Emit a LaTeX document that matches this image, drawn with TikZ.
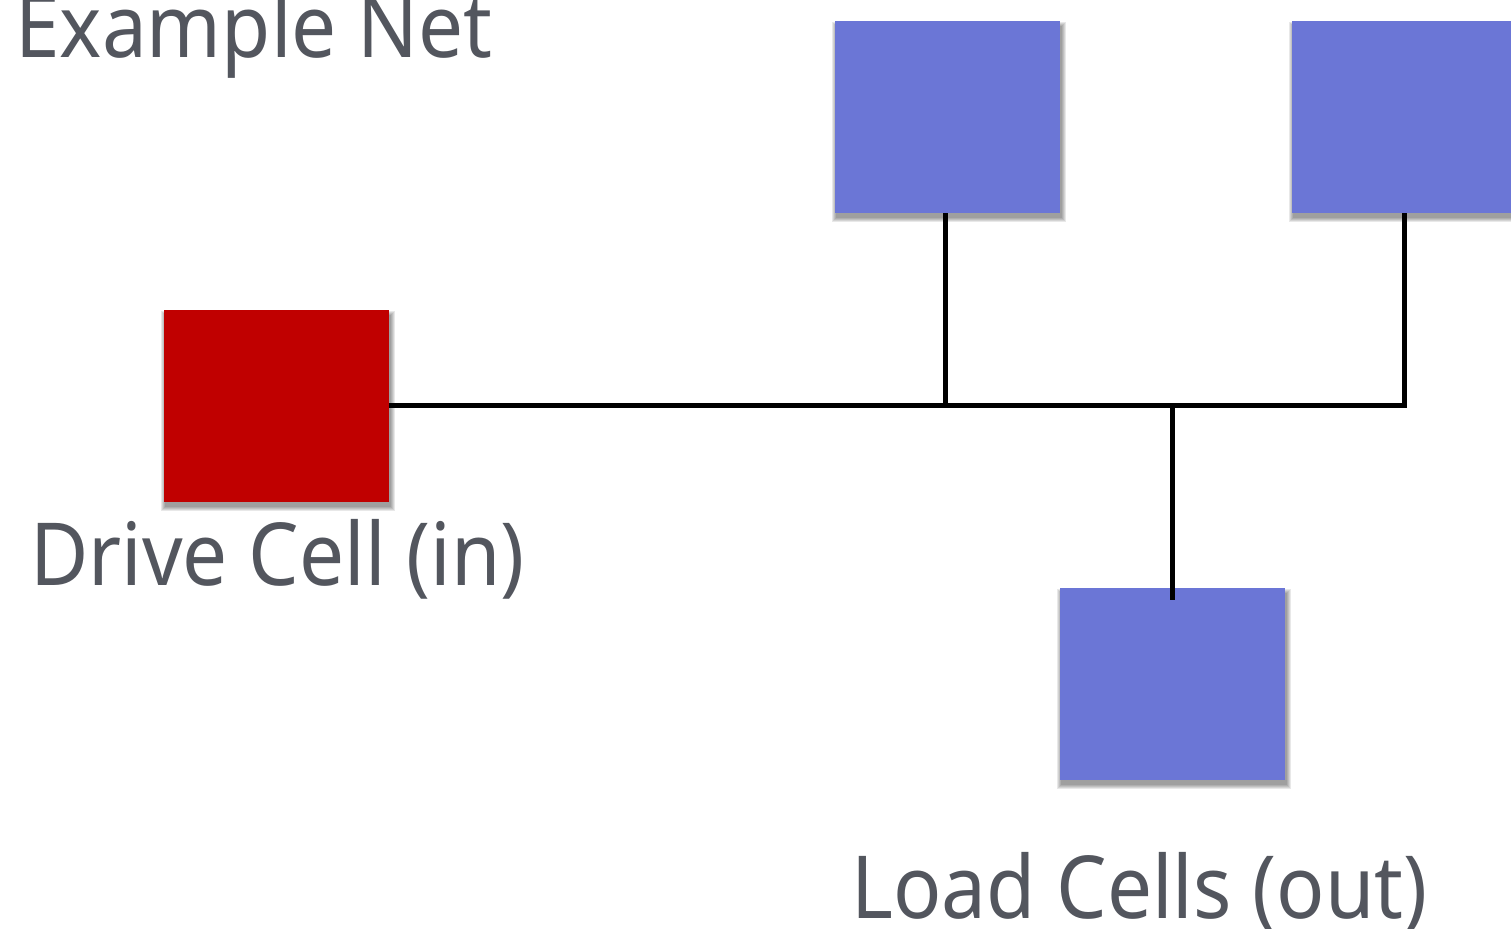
\documentclass[tikz,border=0pt]{standalone}
\usepackage{fontspec}
\setmainfont{Noto Sans}
\definecolor{cellred}{HTML}{C00000}
\definecolor{cellblue}{HTML}{6B76D6}
\definecolor{labelgray}{HTML}{53565E}
\pgfdeclarelayer{background}
\pgfsetlayers{background,main}
\newcommand{\narrowtext}[1]{\scalebox{0.92}[1]{#1}}
\tikzset{
  cell/.style={rectangle, draw=none, inner sep=0pt, minimum width=225pt, minimum height=192pt},
  drivecell/.style={cell, fill=cellred},
  loadcell/.style={cell, fill=cellblue},
  wire/.style={line width=5pt, line cap=butt},
  label/.style={inner sep=0pt, anchor=base west, text=labelgray, font=\fontsize{87}{100}\selectfont},
}
\begin{document}
\begin{tikzpicture}[x=1pt, y=-1pt]
  \path[use as bounding box, clip] (0,0) rectangle (1511,928);

  % cells
  \node[drivecell] (drive) at (276.5,406) {};
  \node[loadcell]  (loadA) at (947.5,117) {};
  \node[loadcell]  (loadB) at (1404.5,117) {};
  \node[loadcell]  (loadC) at (1172.5,684) {};

  % soft drop shadows behind the cells
  \begin{pgfonlayer}{background}
    \foreach \n in {drive,loadA,loadB,loadC}{
      \foreach \k in {0,...,4}{
        \fill[black, opacity=0.09]
          ([shift={(1.5-\k,5-\k)}]\n.north west) rectangle ([shift={(1.5+\k,5+\k)}]\n.south east);
      }
    }
  \end{pgfonlayer}

  % net junctions
  \coordinate (jA) at (945,405.5);
  \coordinate (jC) at (1172.5,405.5);
  \coordinate (jB) at (1404,405.5);
  \coordinate (pinC) at (1172.5,600);

  % wiring
  \draw[wire] (drive.east |- jA) -- ([xshift=2.5pt]jB);
  \draw[wire] ([yshift=2.5pt]jA) -- (jA |- loadA.south);
  \draw[wire] ([yshift=2.5pt]jB) -- (jB |- loadB.south);
  \draw[wire] (jC) -- (pinC);

  % labels
  \node[label] (title) at (15,58) {\narrowtext{Example Net}};
  \node[label] (drivelbl) at (30,585) {\narrowtext{Drive Cell (in)}};
  \node[label] (loadlbl) at (851,918) {\narrowtext{Load Cells (out)}};
\end{tikzpicture}
\end{document}
